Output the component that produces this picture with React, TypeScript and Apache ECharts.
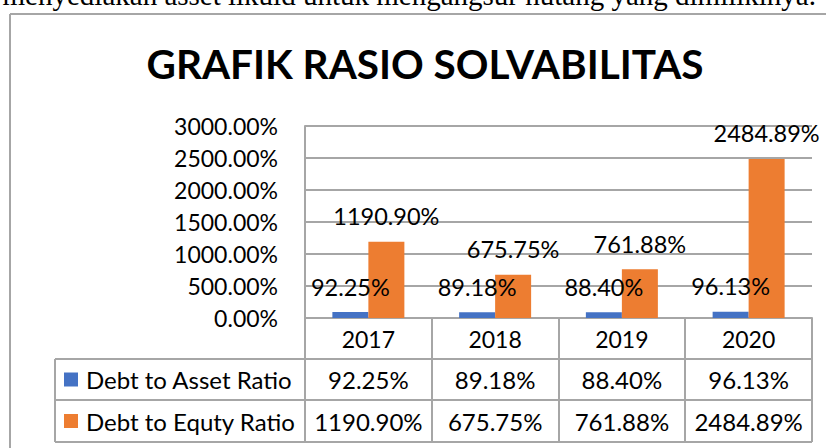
import React, { useEffect, useRef } from "react";
import * as echarts from "echarts";

const titleText = "GRAFIK RASIO SOLVABILITAS";
const topText = "menyediakan asset likuid untuk mengangsur hutang yang dimilikinya.";
const years = ["2017", "2018", "2019", "2020"];
const seriesNames = ["Debt to Asset Ratio", "Debt to Equty Ratio"];
const debtToAsset = [92.25, 89.18, 88.4, 96.13];
const debtToEquity = [1190.9, 675.75, 761.88, 2484.89];
const seriesColors = ["#4472C4", "#ED7D31"];
const yMin = 0;
const yMax = 3000;
const yStep = 500;

const FONT = "Lato, 'Noto Sans', sans-serif";
const LINE = "#A6A6A6";
const W = 826;
const H = 448;
const GRID = { left: 305, top: 126, width: 507, height: 192 };
const ROW_Y = [318, 359, 400, 442];
const LEGEND_X = 55;

const fmt = (v: number) => v.toFixed(2) + "%";

export default function App() {
  const ref = useRef<HTMLDivElement>(null);
  useEffect(() => {
    if (!ref.current) return;
    const chart = echarts.init(ref.current, null, { renderer: "svg" });
    const colW = GRID.width / years.length;
    const right = GRID.left + GRID.width;
    const seriesData = [debtToAsset, debtToEquity];
    const g: any[] = [];
    const line = (x1: number, y1: number, x2: number, y2: number) =>
      g.push({
        type: "line",
        shape: { x1, y1, x2, y2 },
        style: { stroke: LINE, lineWidth: 2 },
        silent: true,
      });
    // outer chart border (cut by the page)
    line(10, 14, W + 10, 14);
    line(10, 14, 10, H + 10);
    // table horizontal lines
    for (let r = 1; r < ROW_Y.length; r++) line(LEGEND_X, ROW_Y[r], right, ROW_Y[r]);
    // table vertical lines
    line(LEGEND_X, ROW_Y[1], LEGEND_X, ROW_Y[3]);
    for (let i = 0; i <= years.length; i++) {
      const x = Math.round(GRID.left + colW * i);
      line(x, ROW_Y[0], x, ROW_Y[3]);
    }
    // legend + values rows
    seriesData.forEach((arr, s) => {
      const yc = (ROW_Y[s + 1] + ROW_Y[s + 2]) / 2;
      g.push({
        type: "rect",
        shape: { x: 64, y: yc - 7, width: 14, height: 14 },
        style: { fill: seriesColors[s] },
      });
      g.push({
        type: "text",
        x: 86,
        y: yc,
        style: {
          text: seriesNames[s],
          font: `24px ${FONT}`,
          fill: "#000",
          align: "left",
          verticalAlign: "middle",
        },
      });
      arr.forEach((v, i) => {
        g.push({
          type: "text",
          x: GRID.left + colW * (i + 0.5),
          y: yc,
          style: {
            text: fmt(v),
            font: `24px ${FONT}`,
            fill: "#000",
            align: "center",
            verticalAlign: "middle",
          },
        });
      });
    });
    // title and cut page text
    g.push({
      type: "text",
      x: 425,
      y: 63,
      style: {
        text: titleText,
        font: `bold 40.5px ${FONT}`,
        fill: "#000",
        align: "center",
        verticalAlign: "middle",
      },
    });
    g.push({
      type: "text",
      x: 816,
      y: -5,
      style: {
        text: topText,
        font: `29px 'Liberation Serif', 'Times New Roman', serif`,
        fill: "#000",
        align: "right",
        verticalAlign: "middle",
      },
    });

    chart.setOption({
      animation: false,
      backgroundColor: "#fff",
      grid: {
        left: GRID.left,
        top: GRID.top,
        width: GRID.width,
        height: GRID.height,
        containLabel: false,
      },
      xAxis: {
        type: "category",
        data: years,
        axisLine: { show: true, lineStyle: { color: LINE, width: 2 } },
        axisTick: { show: false },
        axisLabel: {
          color: "#000",
          fontFamily: FONT,
          fontSize: 23,
          lineHeight: 23,
          margin: 9,
        },
      },
      yAxis: {
        type: "value",
        min: yMin,
        max: yMax,
        interval: yStep,
        axisLine: { show: true, lineStyle: { color: LINE, width: 2 } },
        axisTick: { show: false },
        splitLine: { show: true, lineStyle: { color: LINE, width: 2 } },
        axisLabel: {
          color: "#000",
          fontFamily: FONT,
          fontSize: 23,
          margin: 27,
          formatter: (v: number) => fmt(v),
        },
      },
      series: seriesData.map((arr, s) => ({
        name: seriesNames[s],
        type: "bar",
        data: arr,
        barWidth: 36,
        barGap: "0%",
        itemStyle: { color: seriesColors[s] },
        label: {
          show: true,
          position: "top",
          distance: 14,
          color: "#000",
          fontFamily: FONT,
          fontSize: 23.5,
          lineHeight: 23,
          formatter: (p: any) => fmt(p.value),
        },
      })),
      graphic: g,
    });
    return () => chart.dispose();
  }, []);
  return (
    <div
      ref={ref}
      style={{ position: "fixed", left: 0, top: 0, width: W, height: H, background: "#fff" }}
    />
  );
}
